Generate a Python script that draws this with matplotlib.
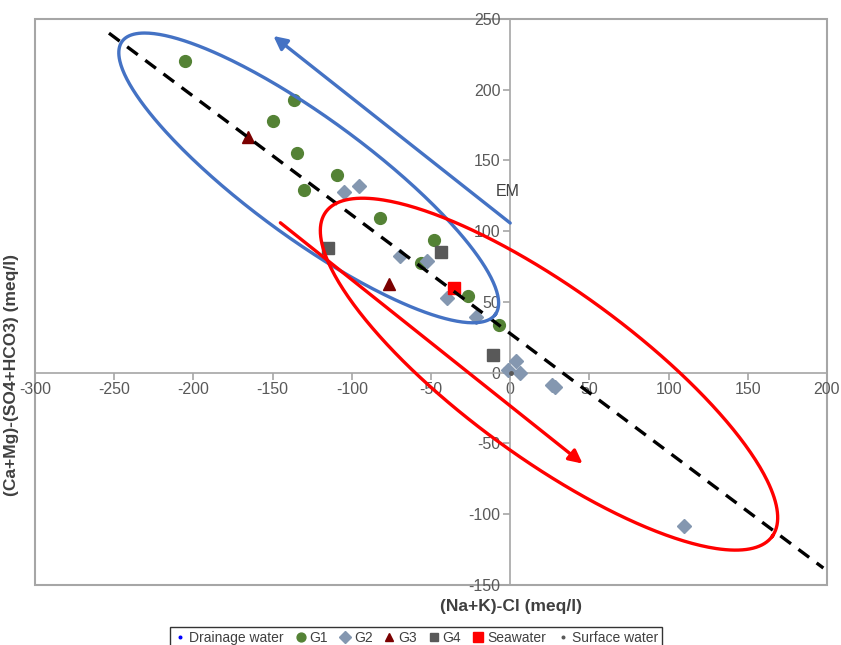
import numpy as np
import matplotlib
matplotlib.use("Agg")
import matplotlib.pyplot as plt
from matplotlib.patches import Rectangle

plt.rcParams['font.family'] = ['Liberation Sans', 'DejaVu Sans']
plt.rcParams['axes.unicode_minus'] = False

# data
g1_x = [-205.3, -136.2, -150.0, -134.3, -109.4, -130.0, -82.2, -48.0, -56.6, -26.6, -7.1]
g1_y = [220.2, 192.7, 177.9, 155.4, 139.8, 129.0, 109.3, 94.0, 77.6, 54.1, 33.4]
g2_x = [-105.2, -95.4, -69.6, -52.8, -39.8, -21.4, 3.4, -1.5, 6.3, 26.5, 28.5, 110.0]
g2_y = [127.4, 132.1, 82.3, 78.7, 52.9, 39.7, 8.2, 2.1, 0.0, -8.5, -10.2, -108.1]
g3_x = [-165.8, -76.7]
g3_y = [166.7, 62.7]
g4_x = [-115.3, -43.8, -10.9]
g4_y = [87.9, 85.1, 12.7]
sea_x = [-35.4]
sea_y = [59.7]
drain_x = [-3.0]
drain_y = [3.0]
surf_x = [0.3]
surf_y = [-0.3]

# dashed mixing line ends
mix_x = [-253.3, 197.7]
mix_y = [240.0, -138.0]

# ellipses: centre, semi-axis vectors (data units)
blue_c = (-127.2, 137.7)
blue_u = (117.8, -96.5)
blue_v = (-22.3, -34.2)
red_c = (24.5, -1.0)
red_u = (141.0, -114.5)
red_v = (-31.0, -48.5)

# arrows (tail, head)
blue_tail = (0.0, 105.8)
blue_head = (-149.5, 238.0)
red_tail = (-145.1, 106.0)
red_head = (45.7, -64.2)

fig = plt.figure(figsize=(8.41, 6.45), dpi=100)
ax = fig.add_axes([35 / 841, 1 - 585 / 645, 792 / 841, 566 / 645])

ms = 8.5
ax.plot(drain_x, drain_y, 'o', color='#0000FF', ms=2.5, ls='none', label='Drainage water', zorder=3)
ax.plot(g1_x, g1_y, 'o', color='#548235', ms=ms, ls='none', label='G1', zorder=3)
ax.plot(g2_x, g2_y, 'D', color='#8497B0', ms=ms - 1, ls='none', label='G2', zorder=3)
ax.plot(g3_x, g3_y, '^', color='#7B0000', ms=ms, ls='none', label='G3', zorder=3)
ax.plot(g4_x, g4_y, 's', color='#595959', ms=ms - 0.5, ls='none', label='G4', zorder=3)
ax.plot(sea_x, sea_y, 's', color='#FF0000', ms=ms + 0.5, ls='none', label='Seawater', zorder=3)
ax.plot(surf_x, surf_y, 'o', color='#595959', ms=2.5, ls='none', label='Surface water', zorder=3)

# mixing line
ax.plot(mix_x, mix_y, color='black', lw=2.4, ls=(0, (4, 2.8)), zorder=4)

# ellipses
t = np.linspace(0, 2 * np.pi, 400)
for c, u, v, col in [(blue_c, blue_u, blue_v, '#4472C4'), (red_c, red_u, red_v, '#FF0000')]:
    ex = c[0] + u[0] * np.cos(t) + v[0] * np.sin(t)
    ey = c[1] + u[1] * np.cos(t) + v[1] * np.sin(t)
    ax.plot(ex, ey, color=col, lw=2.4, zorder=5)

# arrows
ax.annotate('', xy=blue_head, xytext=blue_tail,
            arrowprops=dict(arrowstyle='-|>', color='#4472C4', lw=2.4,
                            mutation_scale=20, shrinkA=0, shrinkB=0), zorder=5)
ax.annotate('', xy=red_head, xytext=red_tail,
            arrowprops=dict(arrowstyle='-|>', color='#FF0000', lw=2.4,
                            mutation_scale=20, shrinkA=0, shrinkB=0), zorder=5)

ax.text(-1.5, 128, 'EM', fontsize=11.5, color='#404040', ha='center', va='center')

ax.set_xlim(-300, 200)
ax.set_ylim(-150, 250)
ax.set_xticks(range(-300, 201, 50))
ax.set_yticks(range(-150, 251, 50))

axis_col = '#A6A6A6'
ax.spines['left'].set_position(('data', 0))
ax.spines['bottom'].set_position(('data', 0))
for s in ['top', 'right']:
    ax.spines[s].set_visible(False)
for s in ['left', 'bottom']:
    ax.spines[s].set_color(axis_col)
    ax.spines[s].set_linewidth(1.2)
ax.add_patch(Rectangle((0, 0), 1, 1, transform=ax.transAxes, fill=False,
                       edgecolor=axis_col, lw=1.5, clip_on=False, zorder=1))
ax.tick_params(axis='both', direction='out', length=5, width=1.2, color=axis_col,
               labelsize=11.5, labelcolor='#595959', pad=2)

fig.text(511 / 841, 1 - 607 / 645, '(Na+K)-Cl (meq/l)', ha='center', va='center',
         fontsize=12.5, fontweight='bold', color='#404040')
fig.text(12 / 841, 1 - 375 / 645, '(Ca+Mg)-(SO4+HCO3) (meq/l)', rotation=90, ha='center', va='center',
         fontsize=12.5, fontweight='bold', color='#404040')

leg = fig.legend(loc='upper center', bbox_to_anchor=(416 / 841, 1 - 627 / 645), ncol=7,
                 frameon=True, fancybox=False, edgecolor='black', fontsize=10,
                 handletextpad=0.2, columnspacing=0.75, handlelength=0.9, borderpad=0.3,
                 borderaxespad=0, markerscale=0.75)
leg.get_frame().set_linewidth(1.0)
for txt in leg.get_texts():
    txt.set_color('#404040')

fig.savefig('out.png', dpi=100)
